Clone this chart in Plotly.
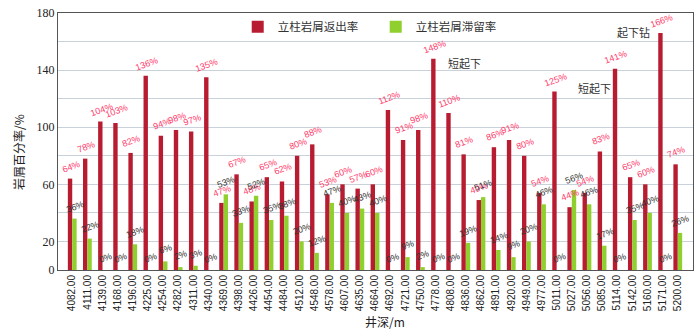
import plotly.graph_objects as go

depths = ["4082.00","4111.00","4139.00","4168.00","4196.00","4225.00","4254.00","4282.00",
          "4311.00","4340.00","4369.00","4398.00","4426.00","4454.00","4484.00","4512.00",
          "4548.00","4578.00","4607.00","4635.00","4664.00","4692.00","4721.00","4750.00",
          "4778.00","4808.00","4836.00","4862.00","4891.00","4920.00","4949.00","4977.00",
          "5011.00","5027.00","5056.00","5085.00","5114.00","5142.00","5160.00","5171.00",
          "5200.00"]
return_rate = [64,78,104,103,82,136,94,98,97,135,47,67,48,65,62,80,88,53,60,57,60,
               112,91,98,148,110,81,49,86,91,80,54,125,44,54,83,141,65,60,166,74]
retain_rate = [36,22,0,0,18,0,6,2,3,0,53,33,52,35,38,20,12,47,40,43,40,
               0,9,2,0,0,19,51,14,9,20,46,0,56,46,17,0,35,40,0,26]
y_ticks = [0,20,40,60,80,100,120,140,160,180]
y_ticktext = ["0","20","","60","","100","","140","","180"]
notes = [("短起下", 25.9, 145), ("短起下", 34.5, 127.5), ("起下钻", 37.1, 167)]

RED = "#b81c31"
GREEN = "#8fcf2e"

fig = go.Figure()
fig.add_trace(go.Bar(x=depths, y=return_rate, name="立柱岩屑返出率",
                     marker=dict(color=RED, line=dict(width=0))))
fig.add_trace(go.Bar(x=depths, y=retain_rate, name="立柱岩屑滞留率",
                     marker=dict(color=GREEN, line=dict(width=0))))

ann = []
for i, (r, g) in enumerate(zip(return_rate, retain_rate)):
    ann.append(dict(x=i, y=r, text=f"{r}%", showarrow=False, textangle=-20,
                    xshift=-1.5, yshift=12, yanchor="middle", xanchor="center",
                    font=dict(family="Liberation Sans, Arial", size=9, color="#ff3b6b")))
    ann.append(dict(x=i, y=g, text=f"{g}%", showarrow=False, textangle=-20,
                    xshift=2.5, yshift=12, yanchor="middle", xanchor="center",
                    font=dict(family="Liberation Sans, Arial", size=9, color="#333333")))
for t, xi, yv in notes:
    ann.append(dict(x=xi, y=yv, text=t, showarrow=False,
                    font=dict(family="Noto Sans CJK SC", size=11, color="#333333")))
ann.append(dict(xref="paper", yref="paper", x=(386-58)/636, y=-(322-270)/261,
                text="井深/m", showarrow=False, yanchor="middle",
                font=dict(family="Noto Sans CJK SC, Liberation Serif", size=12, color="#222")))
ann.append(dict(xref="paper", yref="paper", x=-(58-19)/636, y=(270-150)/261,
                text="岩屑百分率/%", showarrow=False, textangle=-90,
                xanchor="center", yanchor="middle",
                font=dict(family="Noto Sans CJK SC, Liberation Serif", size=12, color="#222")))

fig.update_layout(
    width=700, height=336,
    margin=dict(l=58, r=6, t=9, b=66),
    paper_bgcolor="white", plot_bgcolor="white",
    barmode="group", bargap=0.42, bargroupgap=0,
    showlegend=True,
    legend=dict(orientation="h", x=(238-58)/636, y=(270-23)/261, xanchor="left", yanchor="middle",
                bgcolor="rgba(0,0,0,0)", font=dict(family="Noto Sans CJK SC", size=11.5, color="#333"),
                entrywidth=93, traceorder="normal"),
    annotations=ann,
    xaxis=dict(type="category", tickangle=-90, showgrid=False,
               tickfont=dict(family="Liberation Sans, Arial", size=10, color="#222"),
               showline=True, linecolor="#555", linewidth=1, mirror=True, ticks=""),
    yaxis=dict(range=[0, 180], tickvals=y_ticks, ticktext=y_ticktext,
               showgrid=True, gridcolor="#c9d2da", gridwidth=1,
               tickfont=dict(family="Liberation Serif, Times New Roman", size=12, color="#222"),
               showline=True, linecolor="#555", linewidth=1, mirror=True, ticks="",
               zeroline=False),
)

fig.write_html("out.html")
